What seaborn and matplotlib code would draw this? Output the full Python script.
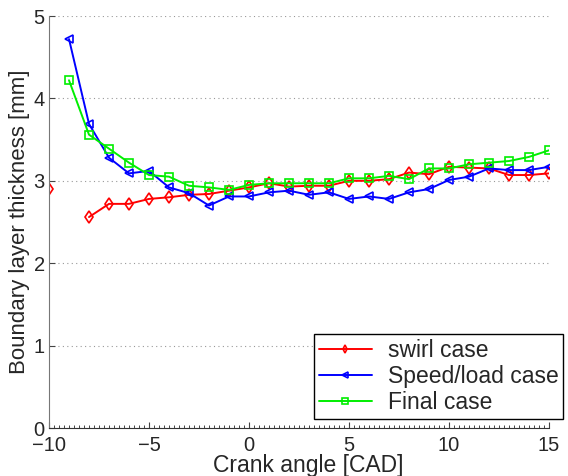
import numpy as np
import pandas as pd
import matplotlib
matplotlib.use('Agg')
import matplotlib.pyplot as plt
import seaborn as sns
from matplotlib.ticker import MultipleLocator

# crank angle [CAD]
cad = list(range(-10, 16))

swirl = [2.90, np.nan, 2.56, 2.72, 2.72, 2.78, 2.80, 2.83, 2.84, 2.88, 2.92, 2.97, 2.93,
         2.94, 2.94, 3.00, 3.00, 3.02, 3.10, 3.08, 3.17, 3.16, 3.15, 3.07, 3.07, 3.09]
speed_load = [np.nan, 4.72, 3.69, 3.28, 3.09, 3.12, 2.92, 2.85, 2.70, 2.81, 2.81, 2.86, 2.88,
              2.83, 2.86, 2.78, 2.81, 2.78, 2.86, 2.90, 3.01, 3.05, 3.15, 3.13, 3.13, 3.17]
final = [np.nan, 4.22, 3.56, 3.39, 3.22, 3.07, 3.05, 2.94, 2.92, 2.89, 2.95, 2.97, 2.97,
         2.97, 2.97, 3.03, 3.03, 3.06, 3.02, 3.15, 3.15, 3.20, 3.22, 3.24, 3.29, 3.37]

labels = ['swirl case', 'Speed/load case', 'Final case']
colors = ['#ff0000', '#0000ff', '#00ee00']
markers = ['d', '<', 's']

sns.set_style('white')
plt.rcParams['font.family'] = ['Liberation Sans', 'DejaVu Sans']

fig = plt.figure(figsize=(5.68, 4.76), dpi=100)
ax = fig.add_axes([49/568, 48/476, 500/568, 412/476])

df = pd.DataFrame({'cad': cad, 'swirl': swirl, 'speed': speed_load, 'final': final})

for col, lab, c, m in zip(['swirl', 'speed', 'final'], labels, colors, markers):
    d = df[['cad', col]].copy()
    # split into continuous runs so gaps stay gaps
    grp = d[col].isna().cumsum()
    first = True
    for _, seg in d[d[col].notna()].groupby(grp[d[col].notna()]):
        sns.lineplot(data=seg, x='cad', y=col, ax=ax, color=c, marker=m,
                     markersize=6, markerfacecolor='none', markeredgecolor=c,
                     markeredgewidth=1.2, linewidth=1.4,
                     label=lab if len(seg) > 1 and first else None, legend=False)
        if len(seg) > 1:
            first = False

ax.set_xlim(-10, 15)
ax.set_ylim(0, 5)
ax.xaxis.set_major_locator(MultipleLocator(5))
ax.xaxis.set_minor_locator(MultipleLocator(0.25))
ax.yaxis.set_major_locator(MultipleLocator(1))
ax.yaxis.grid(True, linestyle=(0, (1, 3)), color='#999999', linewidth=0.8)
ax.tick_params(axis='both', direction='in', labelsize=14.5, length=4, color='#444444')
ax.tick_params(axis='x', which='minor', direction='in', length=2, bottom=True)
ax.tick_params(axis='x', which='major', bottom=True, pad=6)
ax.tick_params(axis='y', left=True, pad=3)
for s in ['top', 'right']:
    ax.spines[s].set_visible(False)
ax.spines['left'].set_color('#777777')
ax.spines['bottom'].set_color('#333333')

ax.set_xlabel('Crank angle [CAD]', fontsize=16.5)
ax.xaxis.set_label_coords(0.518, -0.064)
ax.set_ylabel('Boundary layer thickness [mm]', fontsize=16)
ax.yaxis.set_label_coords(-0.037, 0.5)

handles, labs = ax.get_legend_handles_labels()
leg = ax.legend(handles, labs, loc='lower right', bbox_to_anchor=(563/568, 57/476),
                bbox_transform=fig.transFigure, fontsize=16.5, fancybox=False,
                framealpha=1, edgecolor='black', borderpad=0.2, labelspacing=0.15,
                handlelength=2.3, handletextpad=0.7, markerscale=0.7, borderaxespad=0)
leg.get_frame().set_linewidth(1.0)

fig.savefig('out.png', dpi=100)
